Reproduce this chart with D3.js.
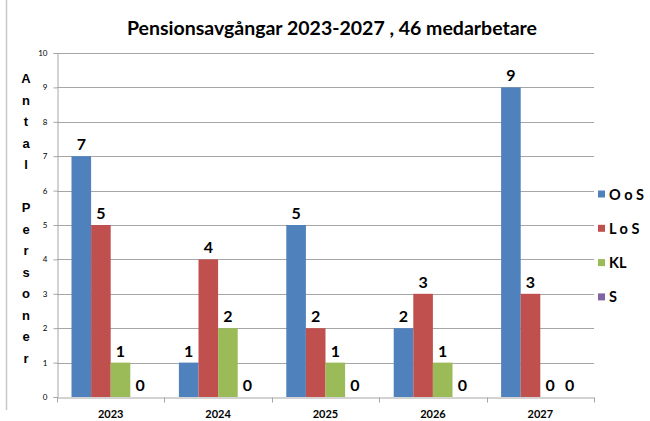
<!DOCTYPE html>
<meta charset="UTF-8">
<script src="https://d3js.org/d3.v7.min.js"></script>
<style>
  body { margin: 0; background: #fff; }
  text { font-family: Lato, "Open Sans", sans-serif; }
</style>
<svg id="chart" width="650" height="421"></svg>
<script>

// data
var years = ["2023", "2024", "2025", "2026", "2027"];
var seriesNames = ["O o S", "L o S", "KL", "S"];
var oos = [7, 1, 5, 2, 9];
var los = [5, 4, 2, 3, 3];
var kl = [1, 2, 1, 1, 0];
var s = [0, 0, 0, 0, 0];
var yTicks = [0, 1, 2, 3, 4, 5, 6, 7, 8, 9, 10];
var yLabel = "Antal Personer";

var colors = ["#4F81BD", "#C0504D", "#9BBB59", "#8064A2"];
var allSeries = [oos, los, kl, s];

var svg = d3.select("#chart");
var margin = {left: 57, right: 56, top: 53, bottom: 24};
var width = 650, height = 421;

// left border line
svg.append("line")
  .attr("x1", 6.5).attr("x2", 6.5).attr("y1", 0).attr("y2", 410)
  .attr("stroke", "#c8c8c8").attr("stroke-width", 1.5);

var x = d3.scaleBand()
  .domain(years)
  .range([margin.left, width - margin.right])
  .paddingInner(0.27)
  .paddingOuter(0.135);

var xSub = d3.scaleBand()
  .domain(d3.range(seriesNames.length))
  .range([0, x.bandwidth()]);

var y = d3.scaleLinear()
  .domain([0, 10])
  .range([height - margin.bottom, margin.top]);

// gridlines
svg.append("g")
  .selectAll("line")
  .data(yTicks.filter(function(d) { return d > 0; }))
  .enter().append("line")
    .attr("x1", margin.left).attr("x2", width - margin.right)
    .attr("y1", function(d) { return Math.round(y(d)) + 0.5; })
    .attr("y2", function(d) { return Math.round(y(d)) + 0.5; })
    .attr("stroke", "#a6a6a6");

// y axis
var yAxis = svg.append("g")
  .attr("transform", "translate(" + (margin.left + 0.5) + ",0)")
  .call(d3.axisLeft(y).tickValues(yTicks).tickSize(4).tickPadding(6));
yAxis.select(".domain").attr("stroke", "#a6a6a6");
yAxis.selectAll(".tick line").attr("stroke", "#a6a6a6");
yAxis.selectAll(".tick text").style("font-size", "8px").attr("fill", "#000")
  .style("font-family", "Lato, sans-serif");

// bars
var groups = svg.append("g")
  .selectAll("g")
  .data(years)
  .enter().append("g")
    .attr("transform", function(d) { return "translate(" + x(d) + ",0)"; });

groups.selectAll("rect")
  .data(function(d, i) { return allSeries.map(function(arr, k) { return {k: k, v: arr[i]}; }); })
  .enter().append("rect")
    .attr("x", function(d) { return xSub(d.k); })
    .attr("width", xSub.bandwidth())
    .attr("y", function(d) { return y(d.v); })
    .attr("height", function(d) { return y(0) - y(d.v); })
    .attr("fill", function(d) { return colors[d.k]; });

groups.selectAll("text.val")
  .data(function(d, i) { return allSeries.map(function(arr, k) { return {k: k, v: arr[i]}; }); })
  .enter().append("text")
    .attr("class", "val")
    .attr("x", function(d) { return xSub(d.k) + xSub.bandwidth() / 2; })
    .attr("y", function(d) { return y(d.v) - 6; })
    .attr("text-anchor", "middle")
    .style("font-size", "16px")
    .style("font-weight", "bold")
    .text(function(d) { return d.v; });

// x axis
var xAxis = svg.append("g")
  .attr("transform", "translate(0," + (y(0) + 0.5) + ")")
  .call(d3.axisBottom(x).tickSize(0).tickPadding(13));
xAxis.select(".domain").attr("stroke", "#a6a6a6");
xAxis.selectAll(".tick text").style("font-size", "11px").style("font-weight", "bold")
  .attr("fill", "#000").style("font-family", "Lato, sans-serif");
var step = x.step();
xAxis.selectAll("line.sep")
  .data(d3.range(years.length + 1))
  .enter().append("line")
    .attr("class", "sep")
    .attr("x1", function(i) { return Math.round(margin.left + i * step) + 0.5; })
    .attr("x2", function(i) { return Math.round(margin.left + i * step) + 0.5; })
    .attr("y1", 0).attr("y2", 5)
    .attr("stroke", "#a6a6a6");

// title
svg.append("text")
  .attr("x", 332).attr("y", 35)
  .attr("text-anchor", "middle")
  .style("font-size", "19.5px")
  .style("font-weight", "bold")
  .text("Pensionsavgångar 2023-2027 , 46 medarbetare");

// stacked y label
var letters = yLabel.split("");
svg.append("g")
  .selectAll("text")
  .data(letters)
  .enter().append("text")
    .attr("x", 26)
    .attr("y", function(d, i) { return 83 + i * 21.5; })
    .attr("text-anchor", "middle")
    .style("font-family", "'Liberation Sans', Arial, sans-serif")
    .style("font-size", "13px")
    .style("font-weight", "bold")
    .text(function(d) { return d; });

// legend
var legend = svg.append("g")
  .selectAll("g")
  .data(seriesNames)
  .enter().append("g")
    .attr("transform", function(d, i) { return "translate(598," + (194 + i * 34.3) + ")"; });
legend.append("rect")
  .attr("x", 0).attr("y", -3.5).attr("width", 7).attr("height", 7)
  .attr("fill", function(d, i) { return colors[i]; });
legend.append("text")
  .attr("x", 11).attr("y", 5.5)
  .style("font-size", "14.5px")
  .style("font-weight", "bold")
  .text(function(d) { return d; });

</script>
